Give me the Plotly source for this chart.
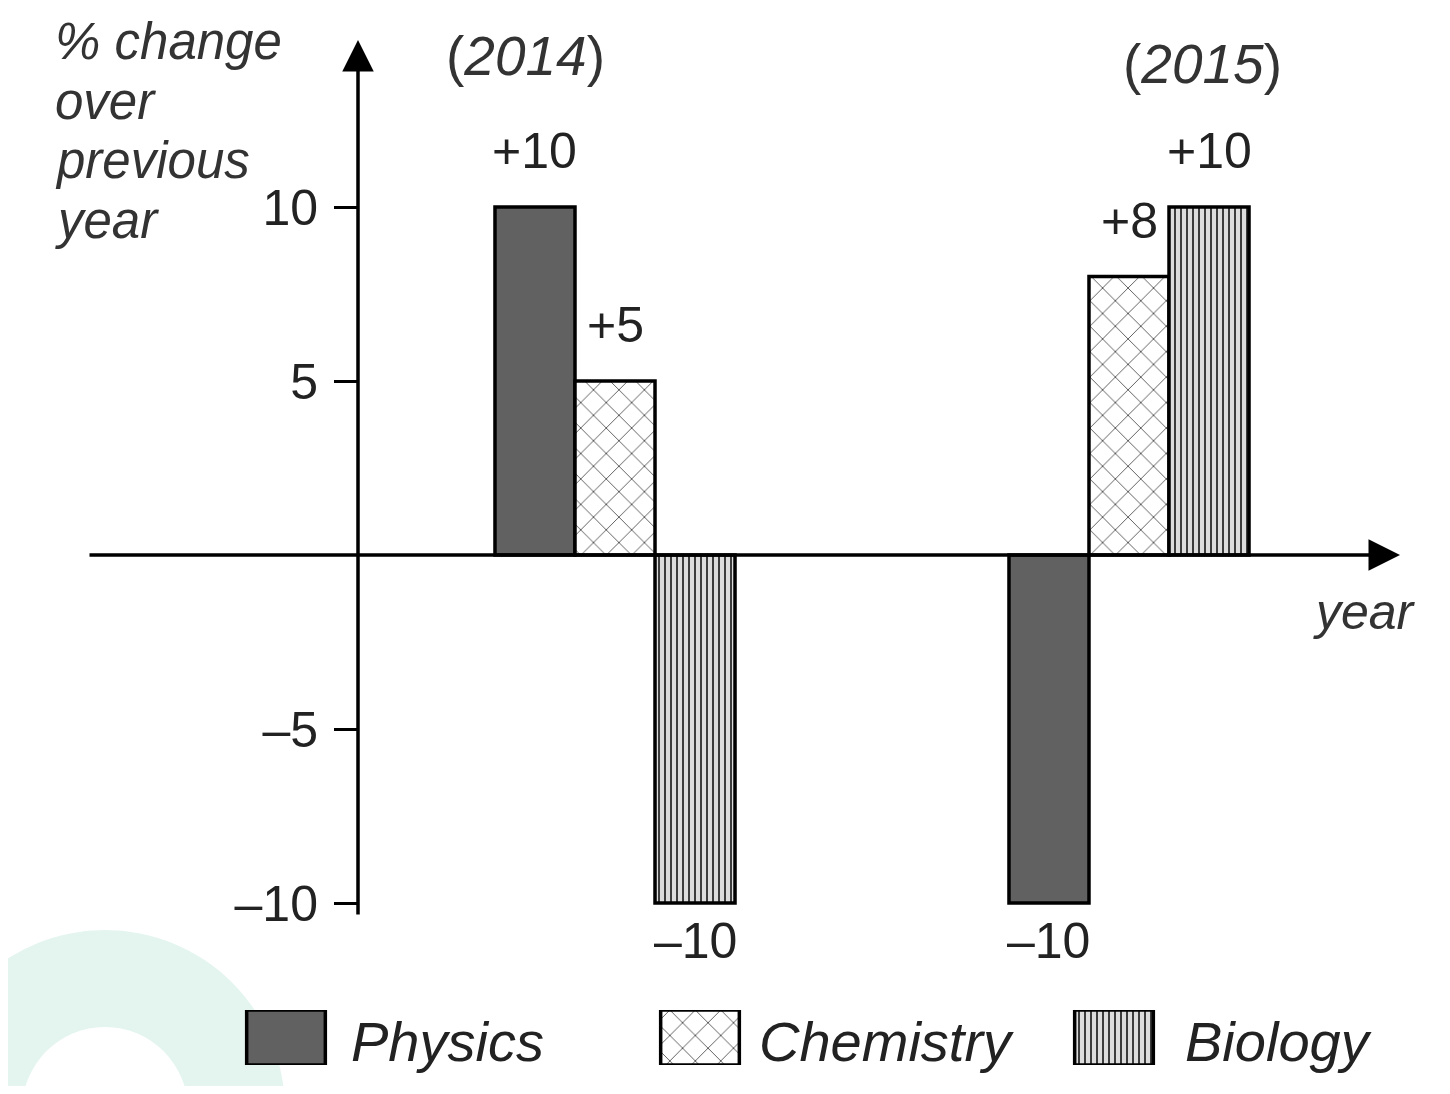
import plotly.graph_objects as go

years = ["2014", "2015"]
subjects = ["Physics", "Chemistry", "Biology"]
physics = [10, -10]
chemistry = [5, 8]
biology = [-10, 10]
y_ticks = [-10, -5, 5, 10]
y_title = ["% change", "over", "previous", "year"]

# page body has an 8px margin, so the figure is a little smaller than the window
OFF = 8
W, H = 1450 - 2 * OFF, 1094 - 2 * OFF
FONT = "Liberation Sans, Arial, sans-serif"
INK = "#222222"

PX_UNIT = 34.8          # px per 1 % on the y axis
ZERO_PY = 555           # pixel row of the zero line (window coords)
GROUP_PX = 514          # px between year groups
GROUP0_PX = 615         # pixel column of the 2014 group
LEG_PX, LEG0_PX = 414, 286


def val(py):
    return (ZERO_PY - py) / PX_UNIT


def idx(px):
    return (px - GROUP0_PX) / GROUP_PX


def paper_x(px):
    return (px - OFF) / W


def paper_y(py):
    return 1 - (py - OFF) / H


def fmt(v):
    return f"+{v}" if v > 0 else f"\u2013{abs(v)}"


styles = {
    "Physics": dict(color="#616161", pattern=dict(shape="")),
    "Chemistry": dict(color="white", pattern=dict(shape="x", fillmode="replace", bgcolor="white",
                                                  fgcolor="#555555", size=18, solidity=0.1)),
    "Biology": dict(color="#d0d0d0", pattern=dict(shape="|", fillmode="replace", bgcolor="#dcdcdc",
                                                 fgcolor="#2a2a2a", size=6, solidity=0.3)),
}
legend_gap = {"Physics": 24, "Chemistry": 18, "Biology": 30}
OUTLINE = dict(color="black", width=3.5)

fig = go.Figure()

for name, vals in zip(subjects, [physics, chemistry, biology]):
    st = styles[name]
    fig.add_trace(go.Bar(
        x=years, y=vals, name=name,
        marker=dict(color=st["color"], pattern=st["pattern"], line=OUTLINE),
        showlegend=False, xaxis="x", yaxis="y",
    ))
    # legend swatch, drawn as a bar in a small row of its own
    fig.add_trace(go.Bar(
        x=[name], y=[1], width=0.19, offsetgroup="legend", xaxis="x2", yaxis="y2", showlegend=False,
        marker=dict(color=st["color"], pattern=st["pattern"], line=OUTLINE),
    ))

annotations = []

# value labels over / under the bars
bar_w = (1 - 0.533) / 3
for k, (name, vals) in enumerate(zip(subjects, [physics, chemistry, biology])):
    for i, v in enumerate(vals):
        annotations.append(dict(
            x=i + (k - 1) * bar_w, y=v, xref="x", yref="y", text=fmt(v), showarrow=False,
            yanchor="bottom" if v > 0 else "top", yshift=26 if v > 0 else -8,
            font=dict(family=FONT, size=50, color=INK)))

# axes with arrow heads
annotations.append(dict(x=idx(1400), y=0, ax=idx(88), ay=0, xref="x", yref="y", axref="x", ayref="y",
                        text="", showarrow=True, arrowhead=2, arrowsize=1.8, arrowwidth=3.5, arrowcolor="black"))
annotations.append(dict(x=-0.5, y=val(40), ax=-0.5, ay=val(916), xref="x", yref="y", axref="x", ayref="y",
                        text="", showarrow=True, arrowhead=2, arrowsize=1.8, arrowwidth=3.5, arrowcolor="black"))

# axis titles and year labels
for line, py in zip(y_title, [41, 101, 161, 221]):
    annotations.append(dict(x=paper_x(53), y=paper_y(py), xref="paper", yref="paper", xanchor="left",
                            yanchor="middle", text=f"<i>{line}</i>", showarrow=False,
                            font=dict(family=FONT, size=51, color="#333333")))
annotations.append(dict(x=paper_x(1418), y=paper_y(612), xref="paper", yref="paper", xanchor="right",
                        yanchor="middle", text="<i>year</i>", showarrow=False,
                        font=dict(family=FONT, size=50, color="#333333")))
for yr, (px, py) in zip(years, [(525, 56), (1202, 64)]):
    annotations.append(dict(x=paper_x(px), y=paper_y(py), xref="paper", yref="paper", xanchor="center",
                            yanchor="middle", text=f"(<i>{yr}</i>)", showarrow=False,
                            font=dict(family=FONT, size=55, color="#333333")))

# legend labels
for name in subjects:
    annotations.append(dict(x=name, y=0.5, xref="x2", yref="y2", xanchor="left", yanchor="middle",
                            xshift=39 + legend_gap[name], yshift=-4, text=f"<i>{name}</i>", showarrow=False,
                            font=dict(family=FONT, size=56, color=INK)))

# faint watermark ring in the lower-left corner
cx, cy, r_out, r_in = 105, 1110, 180, 83
shapes = [
    dict(type="circle", xref="paper", yref="paper", layer="below", line=dict(width=0), fillcolor="#e4f5ef",
         x0=paper_x(cx - r_out), x1=paper_x(cx + r_out), y0=paper_y(cy + r_out), y1=paper_y(cy - r_out)),
    dict(type="circle", xref="paper", yref="paper", layer="below", line=dict(width=0), fillcolor="white",
         x0=paper_x(cx - r_in), x1=paper_x(cx + r_in), y0=paper_y(cy + r_in), y1=paper_y(cy - r_in)),
]

fig.update_layout(
    width=W, height=H,
    margin=dict(l=0, r=0, t=0, b=0),
    paper_bgcolor="white", plot_bgcolor="rgba(0,0,0,0)",
    barmode="group", bargap=0.533, bargroupgap=0,
    font=dict(family=FONT, color=INK),
    xaxis=dict(domain=[0, 1], range=[idx(OFF), idx(OFF + W)], visible=False, fixedrange=True),
    yaxis=dict(domain=[0, 1], range=[val(OFF + H), val(OFF)], anchor="free", position=paper_x(358),
               tickvals=y_ticks, ticktext=[fmt(t).lstrip("+") for t in y_ticks],
               ticks="outside", ticklen=24, tickwidth=3, tickcolor="black", ticklabelstandoff=6,
               tickfont=dict(family=FONT, size=50, color=INK),
               showgrid=False, zeroline=False, showline=False, fixedrange=True),
    xaxis2=dict(domain=[0, 1], range=[(OFF - LEG0_PX) / LEG_PX, (OFF + W - LEG0_PX) / LEG_PX],
                visible=False, anchor="y2"),
    yaxis2=dict(domain=[paper_y(1065), paper_y(1010)], range=[0, 1], visible=False, anchor="x2"),
    annotations=annotations,
    shapes=shapes,
)

fig.write_html("out.html")
